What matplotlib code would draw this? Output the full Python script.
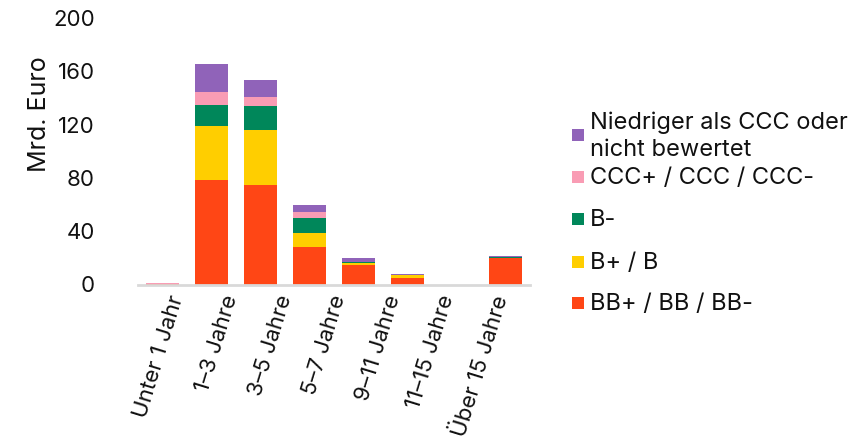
import matplotlib
matplotlib.use("Agg")
import matplotlib.pyplot as plt
import numpy as np
from matplotlib.patches import Rectangle

plt.rcParams['font.family'] = ['Inter', 'DejaVu Sans']

# categories (8 bar slots) and tick labels (7, as in the reference)
bar_slots = ["Unter 1 Jahr", "1–3 Jahre", "3–5 Jahre", "5–7 Jahre", "7–9 Jahre",
             "9–11 Jahre", "11–15 Jahre", "Über 15 Jahre"]
tick_labels = ["Unter 1 Jahr", "1–3 Jahre", "3–5 Jahre", "5–7 Jahre",
               "9–11 Jahre", "11–15 Jahre", "Über 15 Jahre"]

bb = [0.5, 78.1, 74.4, 27.9, 14.5, 4.7, 0.0, 19.7]
b_plus_b = [0.0, 40.5, 41.9, 10.5, 1.5, 2.2, 0.0, 0.5]
b_minus = [0.0, 16.4, 18.0, 11.3, 0.8, 0.1, 0.0, 0.1]
ccc = [0.6, 9.7, 6.7, 4.5, 0.2, 0.1, 0.0, 0.2]
lower = [0.0, 21.1, 12.8, 5.2, 3.0, 0.8, 0.0, 0.8]

series = [
    ("BB+ / BB / BB-", bb, "#FF4615"),
    ("B+ / B", b_plus_b, "#FFCE00"),
    ("B-", b_minus, "#00875A"),
    ("CCC+ / CCC / CCC-", ccc, "#F99CB4"),
    ("Niedriger als CCC oder\nnicht bewertet", lower, "#9063B9"),
]

W, H = 863, 443
fig = plt.figure(figsize=(W / 100, H / 100), dpi=100)
ax = fig.add_axes([138 / W, 1 - 284.5 / H, (530 - 138) / W, (284.5 - 18) / H])

x = np.arange(len(bar_slots))
bottom = np.zeros(len(bar_slots))
for name, vals, col in series:
    v = np.array(vals)
    ax.bar(x, v, width=0.67, bottom=bottom, color=col, linewidth=0, label=name)
    bottom += v

ax.set_xlim(-0.5, 7.5)
ax.set_ylim(0, 200)
ax.set_yticks([0, 40, 80, 120, 160, 200])
ax.tick_params(axis='y', length=0, pad=31, labelsize=16, colors='#111111')

tick_pos = np.linspace(0.3, 6.93, len(tick_labels))
ax.set_xticks(tick_pos)
ax.set_xticklabels(tick_labels, rotation=73, rotation_mode='anchor',
                   ha='right', va='center', fontsize=16, color='#111111')
ax.tick_params(axis='x', length=0, pad=8)

for s in ['top', 'right', 'left']:
    ax.spines[s].set_visible(False)
ax.spines['bottom'].set_color('#D9D9D9')
ax.spines['bottom'].set_linewidth(2)

fig.text(39 / W, 1 - 114.5 / H, "Mrd. Euro", rotation=90, ha='center', va='center',
         fontsize=18, color='#111111')

# legend (reverse order: top = purple)
leg_y = [135, 177, 219, 262, 303]
for (name, vals, col), yc in zip(series[::-1], leg_y):
    fig.patches.append(Rectangle((572 / W, 1 - (yc + 6) / H), 12 / W, 12 / H,
                                 transform=fig.transFigure, color=col, linewidth=0))
    fig.text(590 / W, 1 - (yc + 1) / H, name, ha='left', va='center', fontsize=17,
             color='#111111', linespacing=1.3)

fig.savefig("out.png", dpi=100)
